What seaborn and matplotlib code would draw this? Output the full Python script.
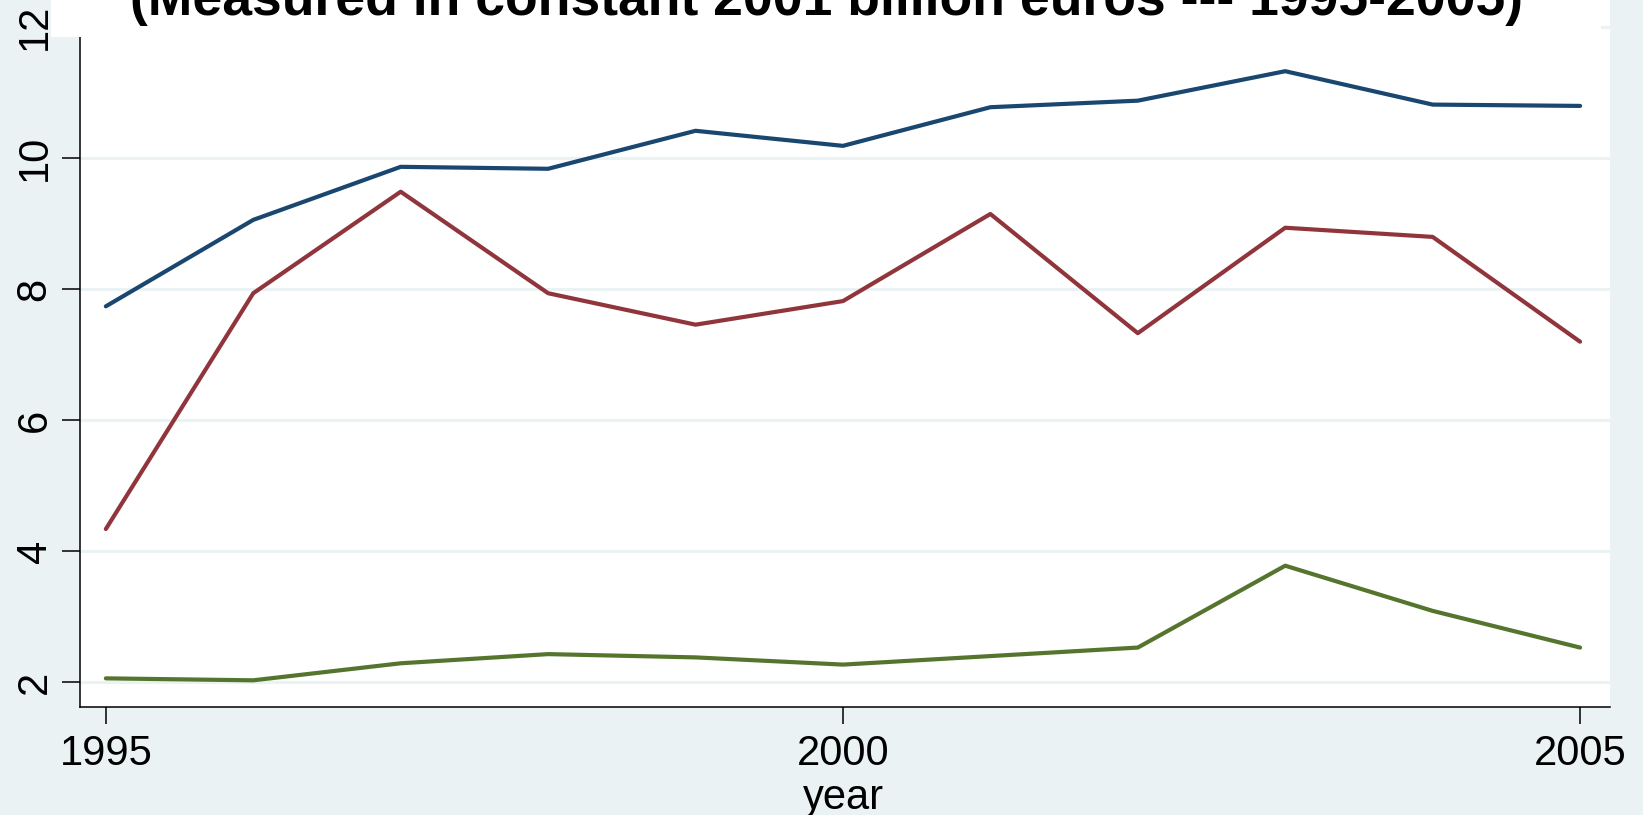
import pandas as pd
import seaborn as sns
import matplotlib.pyplot as plt
from matplotlib.patches import Rectangle

# values
years = [1995, 1996, 1997, 1998, 1999, 2000, 2001, 2002, 2003, 2004, 2005]
blue_series = [7.74, 9.06, 9.87, 9.84, 10.42, 10.19, 10.78, 10.88, 11.33, 10.82, 10.80]
red_series = [4.34, 7.94, 9.49, 7.94, 7.46, 7.82, 9.15, 7.33, 8.94, 8.80, 7.20]
green_series = [2.06, 2.03, 2.29, 2.43, 2.38, 2.27, 2.40, 2.53, 3.78, 3.09, 2.53]
series_names = ['blue', 'red', 'green']
series_colors = ['#1a476f', '#90353b', '#55752f']
title_text = '(Measured in constant 2001 billion euros --- 1995-2005)'
x_ticks = [1995, 2000, 2005]
y_ticks = [2, 4, 6, 8, 10, 12]

bg = '#eaf2f3'
W, H = 1643, 815

sns.set_theme(style='white')
plt.rcParams['font.family'] = ['Liberation Sans', 'DejaVu Sans']
plt.rcParams['text.color'] = 'black'
plt.rcParams['xtick.color'] = 'black'
plt.rcParams['ytick.color'] = 'black'
plt.rcParams['axes.labelcolor'] = 'black'

df = pd.DataFrame({
    'year': years * 3,
    'value': blue_series + red_series + green_series,
    'series': [n for n in series_names for _ in years],
})

fig = plt.figure(figsize=(W / 100, H / 100), dpi=100, facecolor=bg)
left, right, bottom = 79.6, 1610, 707.3
ax = fig.add_axes([left / W, (H - bottom) / H, (right - left) / W, bottom / H])
ax.set_facecolor('white')

sns.lineplot(data=df, x='year', y='value', hue='series', hue_order=series_names,
             palette=series_colors, linewidth=3.0, legend=False, ax=ax)

ax.set_xlim(1994.822, 2005.203)
ax.set_ylim(1.618, 12.417)
ax.set_xticks(x_ticks)
ax.set_yticks(y_ticks)
ax.set_xticklabels([str(t) for t in x_ticks])
ax.set_yticklabels([str(t) for t in y_ticks], rotation=90, va='center')

ax.grid(axis='y', color=bg, linewidth=2.2)
ax.grid(axis='x', visible=False)
ax.set_axisbelow(True)

for s in ['top', 'right']:
    ax.spines[s].set_visible(False)
for s in ['left', 'bottom']:
    ax.spines[s].set_color('black')
    ax.spines[s].set_linewidth(1.1)

ax.tick_params(axis='x', direction='out', length=12.2, width=1.1, color='black',
               labelcolor='black', labelsize=30, pad=7, bottom=True)
ax.tick_params(axis='y', direction='out', length=13, width=1.1, color='black',
               labelcolor='black', labelsize=30, pad=5, left=True)

ax.set_ylabel('')
ax.set_xlabel('year', fontsize=30, color='black')
ax.xaxis.label.set_va('baseline')
ax.xaxis.set_label_coords(0.4988, -(809 - bottom) / bottom)

# white title box over the top of the plot region
fig.patches.append(Rectangle((50.7 / W, 1 - 36.7 / H), (1601 - 50.7) / W, 36.7 / H + 0.01,
                             transform=fig.transFigure, facecolor='white',
                             edgecolor='none', zorder=5))
fig.text(826 / W, 1 - 15 / H, title_text, ha='center', va='baseline',
         fontsize=38.5, fontweight='bold', color='black', zorder=6)

fig.savefig('out.png', dpi=100, facecolor=bg)
